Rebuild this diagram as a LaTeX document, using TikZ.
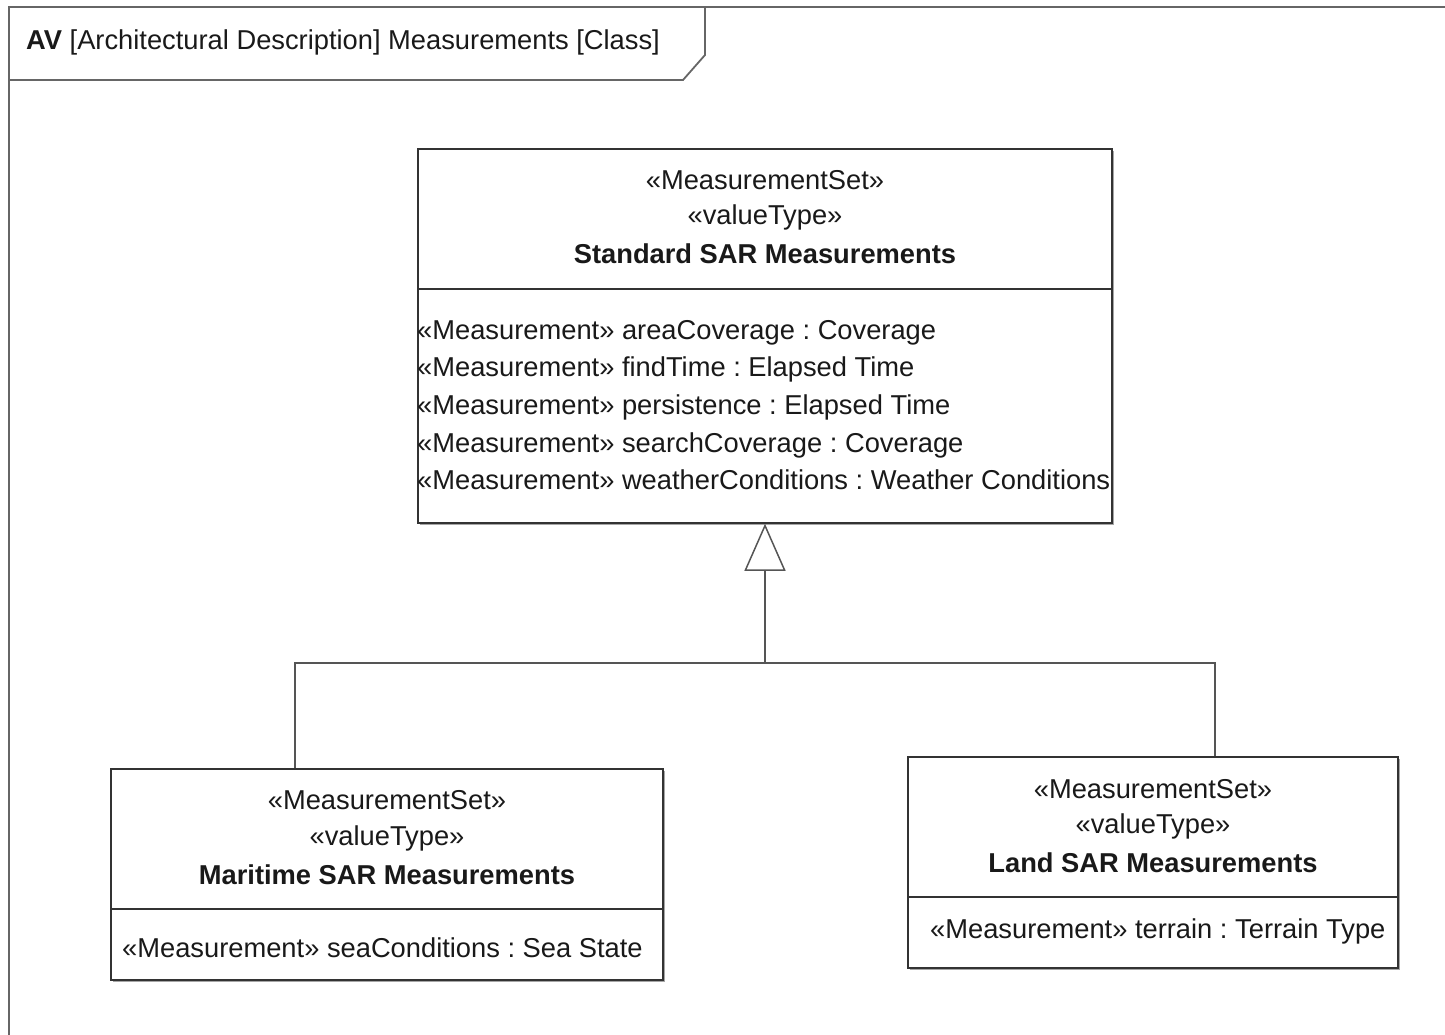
\documentclass[tikz,border=0pt]{standalone}
\usepackage{fontspec}
\setmainfont{Liberation Sans}
\usetikzlibrary{arrows.meta}
\definecolor{ln}{HTML}{333333}
\definecolor{cn}{HTML}{555555}
\frenchspacing
\begin{document}
\begin{tikzpicture}[x=1pt,y=-1pt,
  every node/.style={font=\fontsize{27.3}{37.7}\selectfont, text=black!90},
  classbox/.style={draw=ln, line width=1.5pt, fill=white, rectangle, inner sep=0pt},
  shadowbox/.style={fill=black!35, draw=none, rectangle, inner sep=0pt},
  divider/.style={draw=ln, line width=1.5pt},
  hdr/.style={align=center, inner sep=0pt, anchor=center},
  attr/.style={align=left, inner sep=0pt, anchor=west},
  conn/.style={draw=cn, line width=1.5pt},
  frameline/.style={draw=black!60, line width=1.8pt}
]
\useasboundingbox (0,0) rectangle (1445,1035);
% frame
\draw[frameline] (9,1040) -- (9,7) -- (1450,7);
\draw[frameline] (9,80) -- (683,80) -- (705,55) -- (705,7);
\node[anchor=west, inner sep=0pt] (title) at (26,42) {\textbf{AV} [Architectural Description] Measurements [Class]};

% shadows
\node[shadowbox, minimum width=694pt, minimum height=374pt] (stdS) at (767,338) {};
\node[shadowbox, minimum width=552pt, minimum height=211pt] (marS) at (389,876.5) {};
\node[shadowbox, minimum width=490pt, minimum height=211pt] (landS) at (1155,864.5) {};

% boxes
\node[classbox, minimum width=694pt, minimum height=374pt] (std) at (765,336) {};
\node[classbox, minimum width=552pt, minimum height=211pt] (mar) at (387,874.5) {};
\node[classbox, minimum width=490pt, minimum height=211pt] (land) at (1153,862.5) {};

% dividers
\draw[divider] (std.west |- 0,289) -- (std.east |- 0,289);
\draw[divider] (mar.west |- 0,909) -- (mar.east |- 0,909);
\draw[divider] (land.west |- 0,897) -- (land.east |- 0,897);

% standard box text
\node[hdr] (stdH1) at (765,180) {«MeasurementSet»};
\node[hdr] (stdH2) at (765,217) {«valueType»};
\node[hdr] (stdH3) at (765,254) {\textbf{Standard SAR Measurements}};
\node[attr] (stdA) at (417,405) {«Measurement» areaCoverage : Coverage\\
«Measurement» findTime : Elapsed Time\\
«Measurement» persistence : Elapsed Time\\
«Measurement» searchCoverage : Coverage\\
«Measurement» weatherConditions : Weather Conditions};

% maritime box text
\node[hdr] (marH1) at (387,800) {«MeasurementSet»};
\node[hdr] (marH2) at (387,838) {«valueType»};
\node[hdr] (marH3) at (387,875) {\textbf{Maritime SAR Measurements}};
\node[attr] (marA) at (122,948) {«Measurement» seaConditions : Sea State};

% land box text
\node[hdr] (landH1) at (1153,789) {«MeasurementSet»};
\node[hdr] (landH2) at (1153,826) {«valueType»};
\node[hdr] (landH3) at (1153,863) {\textbf{Land SAR Measurements}};
\node[attr] (landA) at (930,931) {«Measurement» terrain : Terrain Type};

% generalization
\coordinate (j) at (765,663);
\draw[conn] (mar.north -| 295,0) |- (j);
\draw[conn] (land.north -| 1215,0) |- (j);
\draw[conn, -{Triangle[open, length=47pt, width=41pt, line width=1.5pt]}, shorten >=0pt] (j) -- (std.south);
\end{tikzpicture}
\end{document}
